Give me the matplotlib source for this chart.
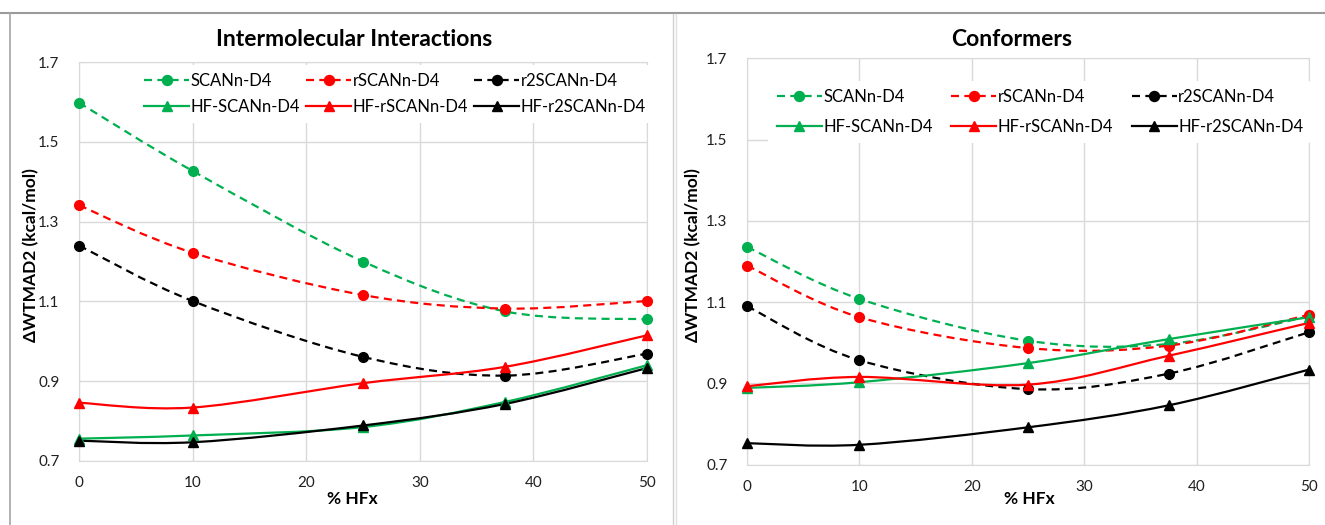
import numpy as np
import matplotlib
matplotlib.use('Agg')
import matplotlib.pyplot as plt
from matplotlib.path import Path
from matplotlib.patches import PathPatch
from matplotlib.lines import Line2D

#%% data

hfx = [0, 10, 25, 37.5, 50]

inter_scan = [1.598, 1.427, 1.200, 1.075, 1.055]
inter_rscan = [1.341, 1.222, 1.116, 1.082, 1.101]
inter_r2scan = [1.240, 1.101, 0.961, 0.914, 0.969]
inter_hf_scan = [0.756, 0.764, 0.785, 0.848, 0.940]
inter_hf_rscan = [0.846, 0.834, 0.895, 0.936, 1.015]
inter_hf_r2scan = [0.751, 0.747, 0.789, 0.843, 0.933]

conf_scan = [1.236, 1.108, 1.005, 0.997, 1.065]
conf_rscan = [1.190, 1.063, 0.987, 0.993, 1.069]
conf_r2scan = [1.090, 0.957, 0.886, 0.924, 1.026]
conf_hf_scan = [0.889, 0.903, 0.950, 1.009, 1.063]
conf_hf_rscan = [0.893, 0.916, 0.897, 0.968, 1.049]
conf_hf_r2scan = [0.753, 0.749, 0.792, 0.846, 0.934]

names = ['SCANn-D4', 'rSCANn-D4', 'r2SCANn-D4',
         'HF-SCANn-D4', 'HF-rSCANn-D4', 'HF-r2SCANn-D4']

#%% styling

plt.rcParams['font.family'] = ['Lato', 'DejaVu Sans']

green = '#00B050'
red = '#FF0000'
black = '#000000'
grid_col = '#D9D9D9'
colours = [green, red, black, green, red, black]
markers = ['o', 'o', 'o', '^', '^', '^']
dashed = (0, (3.6, 2.4))
styles = [dashed, dashed, dashed, '-', '-', '-']


def smooth_path(x, y):
    # excel-like smoothed line: cubic bezier through the points
    pts = np.column_stack([x, y]).astype(float)
    n = len(pts)
    verts = [pts[0]]
    codes = [Path.MOVETO]
    for i in range(n - 1):
        p_prev = pts[i - 1] if i > 0 else pts[i]
        p_next = pts[i + 2] if i + 2 < n else pts[i + 1]
        c1 = pts[i] + (pts[i + 1] - p_prev) / 6
        c2 = pts[i + 1] - (p_next - pts[i]) / 6
        verts += [c1, c2, pts[i + 1]]
        codes += [Path.CURVE4] * 3
    return Path(verts, codes)


def draw_panel(ax, series, legend_anchor, colspace, lspace):
    for ys, c, m, ls in zip(series, colours, markers, styles):
        ax.add_patch(PathPatch(smooth_path(hfx, ys), fill=False,
                               edgecolor=c, lw=1.6, linestyle=ls,
                               zorder=3))
        ax.plot(hfx, ys, linestyle='none', marker=m, color=c,
                markersize=7.2 if m == '^' else 7, zorder=4,
                clip_on=False)
    ax.set_xlim(0, 50)
    ax.set_ylim(0.7, 1.7)
    ax.set_xticks([0, 10, 20, 30, 40, 50])
    ax.set_yticks([0.7, 0.9, 1.1, 1.3, 1.5, 1.7])
    ax.set_yticklabels(['0.7', '0.9', '1.1', '1.3', '1.5', '1.7'])
    ax.grid(True, color=grid_col, lw=1)
    ax.set_axisbelow(True)
    for s in ax.spines.values():
        s.set_color(grid_col)
    ax.tick_params(length=0, labelsize=11, colors='#202020')
    ax.tick_params(axis='x', pad=11)
    ax.tick_params(axis='y', pad=14)

    handles = [Line2D([], [], color=c, marker=m, linestyle=ls, lw=1.6,
                      markersize=7.2)
               for c, m, ls in zip(colours, markers, styles)]
    # order so that the rows read like the reference
    order = [0, 3, 1, 4, 2, 5]
    leg = ax.legend([handles[i] for i in order], [names[i] for i in order],
                    ncol=3, loc='upper left', bbox_to_anchor=legend_anchor,
                    fontsize=12, frameon=True, handlelength=2.7,
                    handletextpad=0.1, columnspacing=colspace,
                    labelspacing=lspace, borderpad=0.5, borderaxespad=0)
    leg.get_frame().set_facecolor('white')
    leg.get_frame().set_edgecolor('none')
    leg.get_frame().set_alpha(1)
    leg.set_zorder(5)


fig = plt.figure(figsize=(13.25, 5.25), dpi=100)

ax1 = fig.add_axes([79 / 1325, 1 - 461 / 525, 568 / 1325, 399 / 525])
ax2 = fig.add_axes([747 / 1325, 1 - 464.7 / 525, 562 / 1325, 406.4 / 525])

draw_panel(ax1, [inter_scan, inter_rscan, inter_r2scan,
                 inter_hf_scan, inter_hf_rscan, inter_hf_r2scan],
           (0.1, 0.993), 0.35, 0.6)
draw_panel(ax2, [conf_scan, conf_rscan, conf_r2scan,
                 conf_hf_scan, conf_hf_rscan, conf_hf_r2scan],
           (0.038, 0.945), 1.1, 0.85)

fig.text(354 / 1325, 1 - 40 / 525, 'Intermolecular Interactions',
         ha='center', va='center', fontsize=16.5, fontweight='bold')
fig.text(1012 / 1325, 1 - 40 / 525, 'Conformers',
         ha='center', va='center', fontsize=16.5, fontweight='bold')

for xc in [31, 693]:
    fig.text(xc / 1325, 1 - 255 / 525, '\u0394WTMAD2 (kcal/mol)',
             rotation=90, ha='center', va='center', fontsize=12.5,
             fontweight='bold', family=['Lato', 'DejaVu Sans'])
for xc in [352, 1029]:
    fig.text(xc / 1325, 1 - 499 / 525, '% HFx', ha='center', va='center',
             fontsize=12.5, fontweight='bold')

# frame lines of the original sheet
fig.add_artist(Line2D([0, 1], [1 - 13 / 525, 1 - 13 / 525],
                      color='#9A9A9A', lw=1.5))
fig.add_artist(Line2D([10 / 1325, 10 / 1325], [0, 1 - 13 / 525],
                      color='#A6A6A6', lw=1.2))
fig.add_artist(Line2D([673 / 1325, 673 / 1325], [0, 1 - 14 / 525],
                      color='#D0D0D0', lw=1.0))
fig.add_artist(Line2D([675.5 / 1325, 675.5 / 1325], [0, 1 - 14 / 525],
                      color='#E0E0E0', lw=1.0))

plt.savefig('out.png', dpi=100)
